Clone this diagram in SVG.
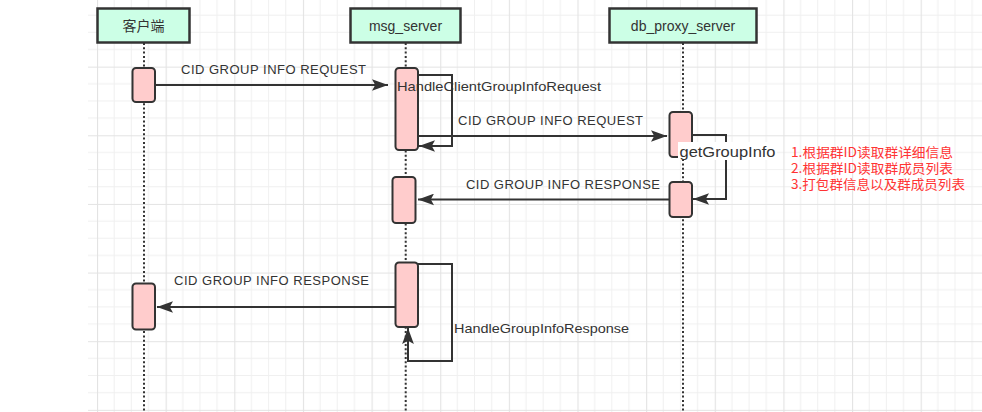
<svg xmlns="http://www.w3.org/2000/svg" width="982" height="412" viewBox="0 0 982 412">
<style>
.hdr{fill:#CCFFE6;stroke:#333;stroke-width:2.5}
.act{fill:#FFCCCC;stroke:#333;stroke-width:2}
.life{stroke:#333;stroke-width:2;stroke-dasharray:2 2.3;fill:none}
.conn{stroke:#333;stroke-width:2;fill:none}
.t{font-family:"Liberation Sans","Noto Sans CJK SC",sans-serif;fill:#333}
.ht{font-size:14px;text-anchor:middle}
.lbl{font-size:13px}
.red{font-family:"Noto Sans CJK SC","Liberation Sans",sans-serif;font-size:13px;fill:#FF3333}
</style>
<defs>
<pattern id="grid" patternUnits="userSpaceOnUse" x="97" y="-2" width="68.64" height="68.64">
<path d="M17.16 0V68.64M34.32 0V68.64M51.48 0V68.64M0 17.16H68.64M0 34.32H68.64M0 51.48H68.64" stroke="#f0f0f0" stroke-width="1"/>
<path d="M0.5 0V68.64M0 0.5H68.64" stroke="#e3e3e3" stroke-width="1.2"/>
</pattern>
<marker id="arr" markerUnits="userSpaceOnUse" markerWidth="16" markerHeight="12" viewBox="0 0 15 11" refX="15" refY="5.5" orient="auto">
<path d="M0 0L15 5.5L0 11L3 5.5Z" fill="#333"/>
</marker>
</defs>
<rect x="0" y="0" width="982" height="412" fill="#fff"/>
<rect x="88" y="0" width="894" height="412" fill="url(#grid)"/>

<g id="client">
<line class="life" x1="144" y1="43" x2="144" y2="412"/>
<rect class="hdr" x="97.5" y="8.5" width="92" height="34"/>
<text class="t ht" x="143.5" y="31">客户端</text>
<rect class="act" x="132.5" y="68" width="22.5" height="34" rx="3.5"/>
<rect class="act" x="132.5" y="283.5" width="22.5" height="46" rx="3.5"/>
</g>

<g id="msg_server">
<line class="life" x1="405.7" y1="43" x2="405.7" y2="412"/>
<rect class="hdr" x="350.5" y="8.5" width="110" height="34"/>
<text class="t ht" x="405.5" y="31">msg_server</text>
<rect class="act" x="395.5" y="68" width="22.5" height="82" rx="3.5"/>
<rect class="act" x="392.5" y="177" width="23" height="46" rx="3.5"/>
<rect class="act" x="395.5" y="262.5" width="22.5" height="64.5" rx="3.5"/>
</g>

<g id="db_proxy_server">
<line class="life" x1="683" y1="43" x2="683" y2="412"/>
<rect class="hdr" x="609.5" y="8.5" width="147" height="34"/>
<text class="t ht" x="683" y="31">db_proxy_server</text>
<rect class="act" x="669.5" y="112" width="22.5" height="45" rx="3.5"/>
<rect class="act" x="669.5" y="182" width="22.5" height="35" rx="3.5"/>
</g>

<g id="connectors">
<path class="conn" d="M155 85H388" marker-end="url(#arr)"/>
<text class="t lbl" x="181" y="74" textLength="185" lengthAdjust="spacing">CID GROUP INFO REQUEST</text>

<path class="conn" d="M418 75H452V146H419" marker-end="url(#arr)"/>
<text class="t lbl" x="397" y="91" textLength="204" lengthAdjust="spacingAndGlyphs">HandleClientGroupInfoRequest</text>

<path class="conn" d="M418 136H667" marker-end="url(#arr)"/>
<text class="t lbl" x="458" y="125" textLength="185" lengthAdjust="spacing">CID GROUP INFO REQUEST</text>

<path class="conn" d="M692 135H726V199H693" marker-end="url(#arr)"/>
<rect x="678" y="142" width="99" height="18" fill="#fff"/>
<text class="t" x="679.5" y="157" font-size="14" textLength="96" lengthAdjust="spacingAndGlyphs">getGroupInfo</text>

<path class="conn" d="M669 199.5H418" marker-end="url(#arr)"/>
<text class="t lbl" x="466" y="189" textLength="194" lengthAdjust="spacing">CID GROUP INFO RESPONSE</text>

<path class="conn" d="M395 307H157" marker-end="url(#arr)"/>
<text class="t lbl" x="174" y="285" textLength="195" lengthAdjust="spacing">CID GROUP INFO RESPONSE</text>

<path class="conn" d="M418 264H452V361H408V328" marker-end="url(#arr)"/>
<text class="t lbl" x="454" y="333" textLength="175" lengthAdjust="spacingAndGlyphs">HandleGroupInfoResponse</text>
</g>

<g id="notes">
<text class="red"><tspan x="791" y="157" textLength="162" lengthAdjust="spacingAndGlyphs">1.根据群ID读取群详细信息</tspan><tspan x="791" y="173" textLength="162" lengthAdjust="spacingAndGlyphs">2.根据群ID读取群成员列表</tspan><tspan x="791" y="189" textLength="174" lengthAdjust="spacingAndGlyphs">3.打包群信息以及群成员列表</tspan></text>
</g>
</svg>
